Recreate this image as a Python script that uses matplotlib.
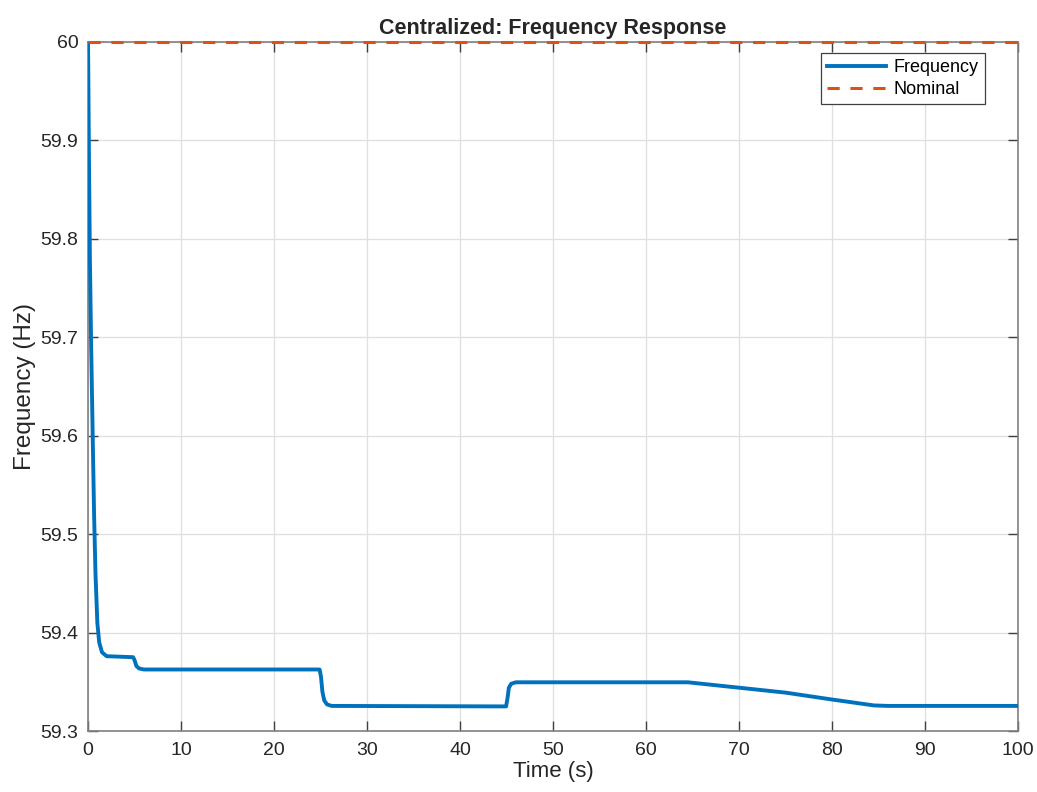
import matplotlib
matplotlib.use("Agg")
import matplotlib.pyplot as plt
from matplotlib.ticker import FuncFormatter
from matplotlib import font_manager

# Frequency trace samples (time in s, frequency in Hz)
time_s = [0.0, 0.1, 0.2, 0.32, 0.5, 0.65, 0.8, 1.0, 1.2, 1.5, 2.0, 4.85,
          5.0, 5.2, 5.5, 6.0, 24.9, 25.05, 25.2, 25.4, 25.7, 26.2,
          44.95, 45.1, 45.25, 45.5, 46.0, 64.5, 66.0, 70.0, 75.0, 80.0,
          84.5, 86.0, 100.0]
freq_hz = [60.0, 59.88, 59.78, 59.7, 59.6, 59.52, 59.46, 59.41, 59.39, 59.38,
           59.376, 59.375, 59.372, 59.366, 59.3635, 59.3625, 59.3625,
           59.355, 59.34, 59.331, 59.327, 59.3255, 59.325, 59.333, 59.344,
           59.348, 59.3495, 59.3495, 59.348, 59.344, 59.339, 59.332,
           59.326, 59.3255, 59.3255]
nominal_t = [0.0, 100.0]
nominal_hz = [60.0, 60.0]

x_ticks = [0, 10, 20, 30, 40, 50, 60, 70, 80, 90, 100]
y_ticks = [59.3, 59.4, 59.5, 59.6, 59.7, 59.8, 59.9, 60.0]

names = {f.name for f in font_manager.fontManager.ttflist}
family = "Liberation Sans" if "Liberation Sans" in names else "DejaVu Sans"
plt.rcParams["font.family"] = [family, "DejaVu Sans"]

fig = plt.figure(figsize=(10.37, 7.92), dpi=100)
ax = fig.add_axes([0.0849, 0.077, 0.8968, 0.870])

ax.plot(time_s, freq_hz, color="#0072BD", lw=2.8, label="Frequency",
        solid_joinstyle="round", zorder=3)
ax.plot(nominal_t, nominal_hz, color="#D95319", lw=2.2, ls=(0, (4, 3.5)),
        label="Nominal", clip_on=False, zorder=5)

ax.set_xlim(0, 100)
ax.set_ylim(59.3, 60.0)
ax.set_xticks(x_ticks)
ax.set_yticks(y_ticks)
ax.yaxis.set_major_formatter(FuncFormatter(lambda v, p: f"{v:g}"))

ax.grid(True, color="#DFDFDF", lw=0.9)
ax.set_axisbelow(True)
for side in ax.spines.values():
    side.set_color("#808080")
    side.set_linewidth(1.2)
ax.tick_params(direction="in", length=7, width=1.0, colors="#404040",
               labelsize=14, top=True, right=True)
ax.tick_params(axis="x", pad=8)
ax.tick_params(axis="y", pad=7)
for lab in ax.get_xticklabels() + ax.get_yticklabels():
    lab.set_color("#262626")

ax.set_xlabel("Time (s)", fontsize=16, color="#262626", labelpad=1)
ax.set_ylabel("Frequency (Hz)", fontsize=17.5, color="#262626", labelpad=3)
ax.set_title("Centralized: Frequency Response", fontsize=15.5,
             fontweight="bold", color="#262626", pad=6)

leg = ax.legend(loc="upper right", bbox_to_anchor=(0.9645, 0.984),
                fontsize=13, frameon=True, fancybox=False,
                edgecolor="#404040", framealpha=1.0, handlelength=3.3,
                borderpad=0.35, labelspacing=0.25, handletextpad=0.4,
                borderaxespad=0.0)
leg.get_frame().set_linewidth(0.9)

fig.savefig("out.png", dpi=100)
